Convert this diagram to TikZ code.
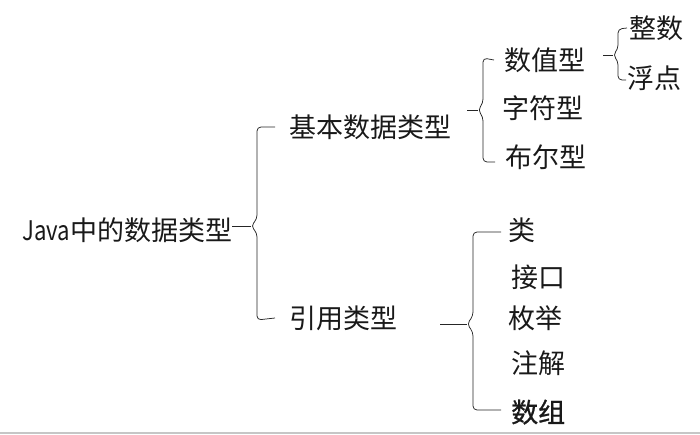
\documentclass[tikz,border=0pt]{standalone}
\usepackage{fontspec}
\usepackage{graphicx}
\setmainfont{Noto Sans CJK SC}
\newfontfamily\heavycjk[FakeBold=1]{Noto Sans CJK SC}
\usepackage{tikz}

\begin{document}
\begin{tikzpicture}[x=1pt,y=-1pt,
	lbl/.style={anchor=west,inner sep=0pt,text height=23.8pt,text depth=3.2pt,
		font=\fontsize{27}{32}\selectfont,text=black!90},
	brace/.style={draw=black!85,line width=0.75pt,rounded corners=4pt}]
	\useasboundingbox (0,0) rectangle (700,434);
	\draw [gray!45,line width=1.6pt] (0,433.2) -- (700,433.2);

	\node[lbl] (java) at (22,230) {\scalebox{0.82}[1]{Java}中的数据类型};
	\node[lbl] (jiben) at (289,127) {基本数据类型};
	\node[lbl] (yinyong) at (289,318) {引用类型};

	\node[lbl] (shuzhi) at (504,60) {数值型};
	\node[lbl] (zifu) at (502,108) {字符型};
	\node[lbl] (buer) at (505,157) {布尔型};
	\node[lbl] (zhengshu) at (629,28) {整数};
	\node[lbl] (fudian) at (627,78) {浮点};

	\node[lbl] (lei) at (508,230) {类};
	\node[lbl] (jiekou) at (511,277) {接口};
	\node[lbl] (meiju) at (508,318) {枚举};
	\node[lbl] (zhujie) at (511,363) {注解};
	\node[lbl] (shuzu) at (511,412) {\heavycjk 数组};

	% Java -> 基本 / 引用
	\coordinate (t1) at (251,226);
	\draw[brace] (java.east |- t1) -- (t1);
	\draw[brace] ([xshift=-14pt]jiben.west) -- (257,127) -- (257,219) -- (t1)
		-- (257,233) -- (257,320) -- ([xshift=-14pt]yinyong.west);

	% 基本数据类型
	\coordinate (s2) at (467,110);
	\coordinate (t2) at (478,110);
	\draw[brace] (s2) -- (t2);
	\draw[brace] ([xshift=-10pt]shuzhi.west) -- (483,58) -- (483,103) -- (t2)
		-- (483,117) -- (483,162) -- ([xshift=-10pt]buer.west |- 0,162);

	% 数值型
	\coordinate (s3) at (603,55);
	\coordinate (t3) at (613,55);
	\draw[brace] (s3) -- (t3);
	\draw[brace] ([xshift=-2pt]zhengshu.west) -- (618,29) -- (618,49) -- (t3)
		-- (618,61) -- (618,80) -- ([xshift=-1pt]fudian.west |- 0,80);

	% 引用类型
	\coordinate (s4) at (440,324);
	\coordinate (t4) at (467,324);
	\draw[brace] (s4) -- (t4);
	\draw[brace] ([xshift=-7pt]lei.west |- 0,232) -- (473,232) -- (473,316) -- (t4)
		-- (473,332) -- (473,410) -- ([xshift=-10pt]shuzu.west |- 0,410);
\end{tikzpicture}
\end{document}
